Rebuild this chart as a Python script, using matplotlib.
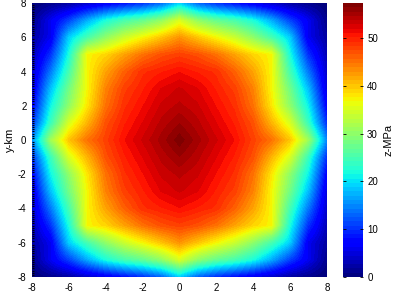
import numpy as np
import matplotlib
matplotlib.use('Agg')
import matplotlib.pyplot as plt
from matplotlib.ticker import MultipleLocator

plt.rcParams['font.family'] = ['Liberation Sans', 'DejaVu Sans']

# grid nodes (km)
x_nodes = np.arange(-8, 9)
y_nodes = np.arange(8, -9, -1)

# top-left quadrant, rows y=8..0, columns x=-8..0 (MPa)
quad = np.array([
    [0, 1, 2, 4, 6, 8, 10, 13, 19],
    [1, 6, 11, 17, 22, 25, 27, 30, 35],
    [2, 6, 19, 25, 30, 34, 37, 40, 43],
    [3, 10, 22, 37, 39, 42, 45, 47, 48],
    [4, 14, 25, 37, 42, 46, 49, 50, 51],
    [5, 18, 28, 37, 44, 48, 50, 52, 53],
    [7, 21, 30, 38, 45, 49, 51, 53, 54],
    [10, 24, 35, 41, 47, 50, 52, 54, 55.5],
    [15, 31, 40, 45, 48, 51, 53, 55, 57],
], dtype=float)

# field is symmetric about both axes
half = np.hstack([quad, quad[:, -2::-1]])
z = np.vstack([half, half[-2::-1, :]])

xticks = [-8, -6, -4, -2, 0, 2, 4, 6, 8]
cticks = [0, 10, 20, 30, 40, 50]
zmax = 57.3

fig = plt.figure(figsize=(3.96, 2.95), dpi=100)
ax = fig.add_axes([32 / 396, 18 / 295, 295 / 396, 274 / 295])
cax = fig.add_axes([343 / 396, 18 / 295, 20 / 396, 274 / 295])

im = ax.imshow(z, cmap=plt.get_cmap('jet', 64), vmin=0, vmax=zmax,
               extent=[-8.5, 8.5, -8.5, 8.5], origin='upper',
               interpolation='bilinear', aspect='auto')
ax.set_xlim(-8, 8)
ax.set_ylim(-8, 8)
ax.set_xticks(xticks)
ax.set_yticks(xticks)
ax.set_xticklabels([str(t) for t in xticks])
ax.set_yticklabels([str(t) for t in xticks])
ax.yaxis.set_minor_locator(MultipleLocator(0.125))
ax.tick_params(axis='both', which='major', labelsize=7, length=0, pad=4)
ax.tick_params(axis='y', which='minor', direction='in', length=1.5, width=0.8)
for s in ax.spines.values():
    s.set_visible(False)
ax.set_ylabel('y-km', fontsize=8, labelpad=2)

cb = fig.colorbar(im, cax=cax, ticks=cticks)
cb.outline.set_visible(False)
cax.tick_params(labelsize=7, direction='in', length=2, width=0.6, pad=3,
                left=True, right=True)
cb.set_label('z-MPa', fontsize=8, labelpad=4)

fig.savefig('out.png', dpi=100)
